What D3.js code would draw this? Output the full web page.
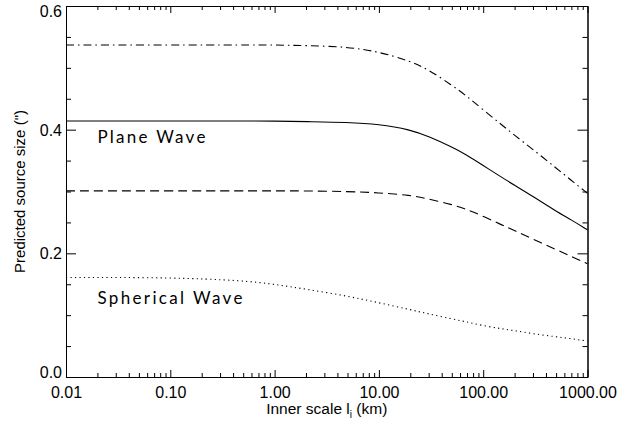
<!DOCTYPE html>
<html>
<head>
<meta charset="utf-8">
<script src="https://cdnjs.cloudflare.com/ajax/libs/d3/7.8.5/d3.min.js"></script>
<style>
	html, body { margin: 0; padding: 0; background: #fff; }
	#canvas { width: 628px; height: 422px; }
	text { font-family: 'Liberation Sans', Arial, Helvetica, sans-serif; fill: #000; }
	.label { font-family: 'Lato', 'DejaVu Sans', sans-serif; font-weight: 400; }
</style>
</head>
<body>
<div id="canvas"></div>
<script>
// inner scale (km)
const lValues = [0.01, 0.1, 0.5, 1, 2, 5, 10, 20, 30, 50, 70, 100, 150, 200, 300, 500, 700, 1000];

// predicted source size (arcsec)
const dashDotSeries = [0.537, 0.537, 0.537, 0.537, 0.536, 0.534, 0.526, 0.511, 0.497, 0.472, 0.454, 0.432, 0.408, 0.391, 0.368, 0.338, 0.318, 0.297];
const solidSeries = [0.414, 0.414, 0.414, 0.414, 0.413, 0.412, 0.409, 0.4, 0.389, 0.372, 0.359, 0.342, 0.323, 0.31, 0.292, 0.268, 0.254, 0.238];
const dashedSeries = [0.301, 0.301, 0.301, 0.301, 0.301, 0.3, 0.298, 0.294, 0.288, 0.279, 0.271, 0.26, 0.246, 0.237, 0.223, 0.206, 0.195, 0.183];
const dottedSeries = [0.161, 0.161, 0.156, 0.15, 0.142, 0.131, 0.12, 0.109, 0.102, 0.094, 0.089, 0.083, 0.078, 0.075, 0.07, 0.065, 0.062, 0.058];

const xTicks = [0.01, 0.1, 1, 10, 100, 1000];
const yTicks = [0, 0.2, 0.4, 0.6];
const yMinorTicks = [0.05, 0.1, 0.15, 0.25, 0.3, 0.35, 0.45, 0.5, 0.55];

const annotations = [
	{ text: 'Plane Wave', l: 0.02, v: 0.379, width: 108 },
	{ text: 'Spherical Wave', l: 0.02, v: 0.118, width: 145 },
];

const width = 628;
const height = 422;
const margins = { top: 6, right: 40.5, bottom: 45, left: 66 };

const xMinorTicks = [];
xTicks.slice(0, -1).forEach(t => {
	for (let k = 2; k <= 9; k++) xMinorTicks.push(t * k);
});

const svg = d3
	.select('#canvas')
	.append('svg')
	.attr('width', width)
	.attr('height', height);

const xScale = d3
	.scaleLog()
	.domain([0.01, 1000])
	.range([margins.left, width - margins.right]);

const yScale = d3
	.scaleLinear()
	.domain([0, 0.6])
	.range([height - margins.bottom, margins.top]);

const x0 = margins.left;
const x1 = width - margins.right;
const y0 = height - margins.bottom;
const y1 = margins.top;

const tickFont = g => g.selectAll('text').style('font-size', '16px');

// bottom + top
svg.append('g')
	.attr('transform', `translate(0, ${y0})`)
	.call(d3.axisBottom(xScale).tickValues(xTicks).tickSize(-7).tickSizeOuter(0).tickPadding(10).tickFormat(d3.format('.2f')))
	.call(tickFont);
svg.append('g')
	.attr('transform', `translate(0, ${y0})`)
	.call(d3.axisBottom(xScale).tickValues(xMinorTicks).tickSize(-4).tickSizeOuter(0).tickFormat(''));
svg.append('g')
	.attr('transform', `translate(0, ${y1})`)
	.call(d3.axisTop(xScale).tickValues(xTicks).tickSize(-7).tickSizeOuter(0).tickFormat(''));
svg.append('g')
	.attr('transform', `translate(0, ${y1})`)
	.call(d3.axisTop(xScale).tickValues(xMinorTicks).tickSize(-4).tickSizeOuter(0).tickFormat(''));

// left + right
svg.append('g')
	.attr('transform', `translate(${x0}, 0)`)
	.call(d3.axisLeft(yScale).tickValues(yTicks).tickSize(-10).tickSizeOuter(0).tickPadding(4).tickFormat(d3.format('.1f')))
	.call(tickFont)
	.call(g => g.selectAll('text').attr('dy', d => (d === 0 ? '0' : d === 0.6 ? '0.65em' : '0.35em')));
svg.append('g')
	.attr('transform', `translate(${x0}, 0)`)
	.call(d3.axisLeft(yScale).tickValues(yMinorTicks).tickSize(-5).tickSizeOuter(0).tickFormat(''));
svg.append('g')
	.attr('transform', `translate(${x1}, 0)`)
	.call(d3.axisRight(yScale).tickValues(yTicks).tickSize(-10).tickSizeOuter(0).tickFormat(''));
svg.append('g')
	.attr('transform', `translate(${x1}, 0)`)
	.call(d3.axisRight(yScale).tickValues(yMinorTicks).tickSize(-5).tickSizeOuter(0).tickFormat(''));

svg.selectAll('.domain').attr('stroke', '#000').attr('stroke-width', 1);
svg.selectAll('.tick line').attr('stroke', '#000');

// curves
const series = [
	{ values: dashDotSeries, dash: '8,4,1.5,4' },
	{ values: solidSeries, dash: null },
	{ values: dashedSeries, dash: '9,5' },
	{ values: dottedSeries, dash: '1.2,3.3' },
];

const line = d3
	.line()
	.x(d => xScale(d[0]))
	.y(d => yScale(d[1]))
	.curve(d3.curveBasis);

svg.append('g')
	.selectAll('path')
	.data(series)
	.join('path')
	.attr('d', s => line(lValues.map((l, i) => [l, s.values[i]])))
	.attr('fill', 'none')
	.attr('stroke', '#000')
	.attr('stroke-width', 1.1)
	.attr('stroke-dasharray', s => s.dash);

// annotations
svg.append('g')
	.selectAll('text')
	.data(annotations)
	.join('text')
	.attr('class', 'label')
	.attr('x', d => xScale(d.l))
	.attr('y', d => yScale(d.v))
	.attr('textLength', d => d.width)
	.attr('lengthAdjust', 'spacing')
	.style('font-size', '17px')
	.text(d => d.text);

// axis titles
const xTitle = svg
	.append('text')
	.attr('x', (x0 + x1) / 2)
	.attr('y', 414)
	.attr('text-anchor', 'middle')
	.style('font-size', '15.5px');
xTitle.append('tspan').text('Inner scale l');
xTitle.append('tspan').attr('dy', 4).style('font-size', '10px').text('i');
xTitle.append('tspan').attr('dy', -4).text(' (km)');

svg.append('text')
	.attr('transform', `translate(25, ${(y0 + y1) / 2}) rotate(-90)`)
	.attr('text-anchor', 'middle')
	.style('font-size', '15px')
	.text('Predicted source size (")');
</script>
</body>
</html>
